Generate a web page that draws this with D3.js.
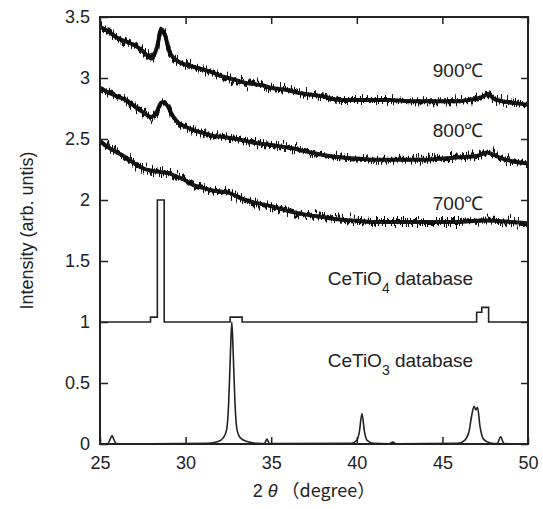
<!DOCTYPE html>
<html>
<head>
<meta charset="utf-8">
<script src="https://cdn.jsdelivr.net/npm/d3@7"></script>
<style>
  body { margin: 0; background: #fff; }
  svg text { font-family: "Liberation Sans", Arial, sans-serif; fill: #222; }
</style>
</head>
<body>
<div id="chart"></div>
<script>
// XRD patterns, [2theta, intensity]

const xTicks = [25, 30, 35, 40, 45, 50];
const yTicks = [0, 0.5, 1, 1.5, 2, 2.5, 3, 3.5];

const sample900 = [
  [25, 3.42], [25.5, 3.38], [26, 3.33], [26.5, 3.30], [27, 3.27], [27.5, 3.22],
  [28, 3.16], [28.3, 3.24], [28.6, 3.40], [28.8, 3.35], [29.1, 3.20], [29.5, 3.14],
  [30, 3.11], [30.5, 3.09], [31, 3.07], [31.5, 3.05], [32, 3.02], [32.5, 3.00],
  [33, 2.98], [33.5, 2.96], [34, 2.95], [34.5, 2.94], [35, 2.92], [35.5, 2.91],
  [36, 2.90], [36.5, 2.88], [37, 2.87], [37.5, 2.86], [38, 2.85], [38.5, 2.83],
  [39, 2.82], [40, 2.82], [41, 2.82], [42, 2.82], [43, 2.81], [44, 2.81],
  [45, 2.81], [46, 2.81], [46.5, 2.82], [47, 2.83], [47.4, 2.85], [47.7, 2.87],
  [48, 2.83], [48.5, 2.81], [49, 2.80], [49.5, 2.79], [50, 2.78]
];

const sample800 = [
  [25, 2.92], [25.5, 2.88], [26, 2.85], [26.5, 2.82], [27, 2.77], [27.5, 2.72],
  [28, 2.68], [28.3, 2.72], [28.6, 2.80], [28.9, 2.78], [29.2, 2.70], [29.6, 2.63],
  [30, 2.60], [30.5, 2.57], [31, 2.55], [31.5, 2.53], [32, 2.52], [33, 2.50],
  [34, 2.47], [35, 2.45], [36, 2.43], [37, 2.40], [38, 2.37], [39, 2.35],
  [40, 2.34], [41, 2.33], [42, 2.33], [43, 2.33], [44, 2.33], [45, 2.34],
  [46, 2.35], [47, 2.36], [47.6, 2.39], [48, 2.37], [48.5, 2.34], [49, 2.32], [50, 2.30]
];

const sample700 = [
  [25, 2.48], [25.5, 2.43], [26, 2.39], [26.5, 2.35], [27, 2.30], [27.5, 2.26],
  [28, 2.24], [28.5, 2.23], [29, 2.22], [29.5, 2.19], [30, 2.16], [30.5, 2.12],
  [31, 2.10], [31.5, 2.08], [32, 2.07], [32.5, 2.06], [33, 2.03], [33.5, 2.00],
  [34, 1.98], [35, 1.95], [36, 1.91], [37, 1.88], [38, 1.86], [39, 1.84],
  [40, 1.83], [41, 1.82], [42, 1.82], [43, 1.82], [44, 1.82], [45, 1.82],
  [46, 1.82], [47, 1.83], [48, 1.83], [49, 1.82], [50, 1.81]
];

// CeTiO4 reference, drawn as steps
const ceTiO4 = [
  [25, 1], [27.95, 1.04], [28.35, 2.0], [28.75, 1], [32.6, 1.04], [33.3, 1],
  [47.0, 1.08], [47.3, 1.12], [47.7, 1], [50, 1]
];

// CeTiO3 reference
const ceTiO3 = [
  [25, 0], [25.45, 0.003], [25.6, 0.04], [25.7, 0.07], [25.8, 0.04], [25.95, 0.003], [26.3, 0],
  [31.3, 0.005], [31.9, 0.02], [32.2, 0.05], [32.4, 0.12], [32.52, 0.35], [32.62, 0.75],
  [32.7, 1.0], [32.78, 0.75], [32.88, 0.35], [33.0, 0.12], [33.2, 0.05], [33.6, 0.02], [34.2, 0.005],
  [34.6, 0.003], [34.75, 0.04], [34.9, 0.003],
  [39.7, 0.005], [40.0, 0.03], [40.15, 0.1], [40.3, 0.25], [40.45, 0.1], [40.6, 0.03], [41.0, 0.005],
  [41.9, 0.002], [42.1, 0.015], [42.3, 0.002],
  [45.9, 0.005], [46.3, 0.03], [46.55, 0.1], [46.72, 0.24], [46.85, 0.31], [46.95, 0.28],
  [47.05, 0.30], [47.2, 0.14], [47.4, 0.04], [47.8, 0.008],
  [48.2, 0.003], [48.4, 0.06], [48.6, 0.003], [50, 0]
];

const curveLabels = [
  { text: "900℃", x: 47.4, y: 3.01 },
  { text: "800℃", x: 47.4, y: 2.52 },
  { text: "700℃", x: 47.4, y: 1.92 }
];

let width = 543;
let height = 509;
let margin = { top: 17, right: 15, bottom: 65, left: 100 };

let svg = d3.select("#chart").append("svg")
  .attr("width", width)
  .attr("height", height);

let x = d3.scaleLinear().domain([25, 50]).range([margin.left, width - margin.right]);
let y = d3.scaleLinear().domain([0, 3.5]).range([height - margin.bottom, margin.top]);

let defs = svg.append("defs");

defs.append("clipPath")
  .attr("id", "plot-area")
  .append("rect")
  .attr("x", x(25))
  .attr("y", y(3.5))
  .attr("width", x(50) - x(25))
  .attr("height", y(0) - y(3.5));

// Grainy texture for the measured scans (visual only)
let filter = defs.append("filter")
  .attr("id", "grain")
  .attr("x", "-5%").attr("y", "-20%")
  .attr("width", "110%").attr("height", "140%");
filter.append("feTurbulence")
  .attr("type", "fractalNoise")
  .attr("baseFrequency", "0.8 0.03")
  .attr("numOctaves", 2)
  .attr("seed", 3)
  .attr("result", "noise");
filter.append("feColorMatrix")
  .attr("in", "noise")
  .attr("type", "matrix")
  .attr("values", "1 0 0 0 0  0 0 0 0 0.5  0 0 0 0 0  0 0 0 0 1")
  .attr("result", "map");
filter.append("feDisplacementMap")
  .attr("in", "SourceGraphic")
  .attr("in2", "map")
  .attr("scale", 18)
  .attr("xChannelSelector", "G")
  .attr("yChannelSelector", "R");

// Axes, ticks pointing inward
svg.append("g")
  .attr("transform", `translate(0,${y(0)})`)
  .call(d3.axisBottom(x).tickValues(xTicks).tickSize(-7).tickPadding(12))
  .call(g => g.selectAll("text").style("font-size", "18px"));

svg.append("g")
  .attr("transform", `translate(${x(25)},0)`)
  .call(d3.axisLeft(y).tickValues(yTicks).tickSize(-8).tickPadding(10)
    .tickFormat(d => d3.format("")(d)))
  .call(g => g.selectAll("text").style("font-size", "18px"));

svg.append("g")
  .attr("transform", `translate(0,${y(3.5)})`)
  .call(d3.axisTop(x).tickValues(xTicks).tickSize(-7).tickFormat(""));

svg.append("g")
  .attr("transform", `translate(${x(50)},0)`)
  .call(d3.axisRight(y).tickValues(yTicks).tickSize(-7).tickFormat(""));

svg.selectAll(".domain").remove();
svg.selectAll(".tick line").attr("stroke", "#222").attr("stroke-width", 1.5);

let line = d3.line()
  .x(d => x(d[0]))
  .y(d => y(d[1]));

// Measured patterns: solid core plus grainy spikes
let plot = svg.append("g").attr("clip-path", "url(#plot-area)");
let scans = plot.append("g");
let spikes = plot.append("g").attr("filter", "url(#grain)");
[sample900, sample800, sample700].forEach(s => {
  scans.append("path")
    .datum(s)
    .attr("d", line.curve(d3.curveCatmullRom))
    .attr("fill", "none")
    .attr("stroke", "#1a1a1a")
    .attr("stroke-width", 4)
    .attr("stroke-linejoin", "round");
  spikes.append("path")
    .datum(s)
    .attr("d", line.curve(d3.curveCatmullRom))
    .attr("fill", "none")
    .attr("stroke", "#111")
    .attr("stroke-width", 4)
    .attr("stroke-linejoin", "round");
});

svg.append("path")
  .datum(ceTiO4)
  .attr("d", line.curve(d3.curveStepAfter))
  .attr("fill", "none")
  .attr("stroke", "#222")
  .attr("stroke-width", 1.6);

svg.append("path")
  .datum(ceTiO3)
  .attr("d", line.curve(d3.curveMonotoneX))
  .attr("fill", "none")
  .attr("stroke", "#222")
  .attr("stroke-width", 1.6);

// Frame
svg.append("rect")
  .attr("x", x(25))
  .attr("y", y(3.5))
  .attr("width", x(50) - x(25))
  .attr("height", y(0) - y(3.5))
  .attr("fill", "none")
  .attr("stroke", "#222")
  .attr("stroke-width", 2);

// Labels
svg.selectAll("text.temp")
  .data(curveLabels)
  .enter()
    .append("text")
    .classed("temp", true)
    .attr("x", d => x(d.x))
    .attr("y", d => y(d.y))
    .attr("text-anchor", "end")
    .style("font-size", "19px")
    .text(d => d.text);

function dbLabel(sub, yv) {
  let t = svg.append("text")
    .attr("x", x(38.3))
    .attr("y", y(yv))
    .style("font-size", "19px");
  t.append("tspan").text("CeTiO");
  t.append("tspan").attr("dy", 8).style("font-size", "14px").text(sub);
  t.append("tspan").attr("dy", -8).text(" database");
}
dbLabel("4", 1.30);
dbLabel("3", 0.635);

// Axis titles
let xt = svg.append("text")
  .attr("x", (x(25) + x(50)) / 2)
  .attr("y", 497)
  .attr("text-anchor", "middle")
  .style("font-size", "18px");
xt.append("tspan").text("2 ");
xt.append("tspan").style("font-style", "italic").text("θ");
xt.append("tspan").style("font-family", "'Noto Sans CJK JP'").text(" （degree）");

svg.append("text")
  .attr("transform", `translate(33,${(y(0) + y(3.5)) / 2}) rotate(-90)`)
  .attr("text-anchor", "middle")
  .style("font-size", "18px")
  .text("Intensity (arb. untis)");
</script>
</body>
</html>
